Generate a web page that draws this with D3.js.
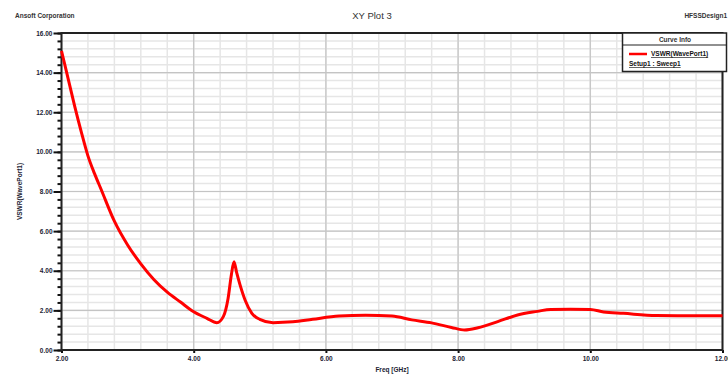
<!DOCTYPE html>
<html>
<head>
<meta charset="utf-8">
<script src="https://cdn.jsdelivr.net/npm/d3@7"></script>
<style>
	body { margin: 0; background: #fff; }
	text { font-family: "Liberation Sans", Arial, sans-serif; }
</style>
</head>
<body>
<svg id="chart" width="728" height="375"></svg>
<script>
// curve: VSWR(WavePort1) vs Freq [GHz]
var freq = [2.0, 2.05, 2.1, 2.2, 2.3, 2.4, 2.5, 2.6, 2.8, 3.0, 3.2, 3.4, 3.6, 3.8, 4.0, 4.2, 4.35,
	4.45, 4.52, 4.57, 4.61, 4.65, 4.7, 4.78, 4.88, 5.0, 5.2, 5.5, 5.8, 6.2, 6.6, 7.0, 7.3, 7.6,
	7.9, 8.1, 8.3, 8.6, 8.9, 9.2, 9.4, 9.7, 10.0, 10.2, 10.5, 11.0, 11.5, 12.0];
var vswr = [15.1, 14.4, 13.7, 12.3, 11.0, 9.8, 8.9, 8.1, 6.5, 5.3, 4.35, 3.55, 2.92, 2.42, 1.93, 1.6, 1.38,
	1.7, 2.6, 3.8, 4.45, 3.9, 3.3, 2.5, 1.85, 1.55, 1.38, 1.42, 1.55, 1.71, 1.75, 1.71, 1.52, 1.37,
	1.14, 1.01, 1.12, 1.43, 1.77, 1.95, 2.05, 2.06, 2.05, 1.92, 1.85, 1.74, 1.73, 1.73];
var xTicks = [2, 4, 6, 8, 10, 12];
var yTicks = [0, 2, 4, 6, 8, 10, 12, 14, 16];
var legendNames = ["VSWR(WavePort1)", "Setup1 : Sweep1"];

var svg = d3.select("#chart");
// plot area (note: "top" is taken by window.top)
var pL = 61.5, pR = 722.5, pT = 33, pB = 350;

var x = d3.scaleLinear().domain([2, 12]).range([pL, pR]);
var y = d3.scaleLinear().domain([0, 16]).range([pB, pT]);

// minor grid every 0.4
var gx = svg.append("g");
d3.range(2, 12.001, 0.4).forEach(function(v) {
	gx.append("line").attr("x1", x(v)).attr("x2", x(v)).attr("y1", pT).attr("y2", pB)
		.attr("stroke", "#e6e6e6").attr("stroke-width", 1.5);
});
d3.range(0, 16.001, 0.4).forEach(function(v) {
	gx.append("line").attr("x1", pL).attr("x2", pR).attr("y1", y(v)).attr("y2", y(v))
		.attr("stroke", "#e6e6e6").attr("stroke-width", 1.5);
});
// major grid
xTicks.forEach(function(v) {
	gx.append("line").attr("x1", x(v)).attr("x2", x(v)).attr("y1", pT).attr("y2", pB)
		.attr("stroke", "#c4c4c4").attr("stroke-width", 1.2);
});
yTicks.forEach(function(v) {
	gx.append("line").attr("x1", pL).attr("x2", pR).attr("y1", y(v)).attr("y2", y(v))
		.attr("stroke", "#c4c4c4").attr("stroke-width", 1.2);
});

// axes
var yAxis = d3.axisLeft(y).tickValues(yTicks).tickSize(8).tickPadding(1)
	.tickFormat(function(d) { return d.toFixed(2); });
var ya = svg.append("g").attr("transform", "translate(" + pL + ",0)").call(yAxis);
ya.select(".domain").remove();
ya.selectAll("line").attr("stroke", "#111").attr("stroke-width", 2);
var yMinor = d3.axisLeft(y).tickValues(d3.range(0, 16.001, 0.4)).tickSize(4).tickFormat("");
var ym = svg.append("g").attr("transform", "translate(" + pL + ",0)").call(yMinor);
ym.select(".domain").remove();
ym.selectAll("line").attr("stroke", "#111").attr("stroke-width", 2);

var xAxis = d3.axisBottom(x).tickValues(xTicks).tickSize(3).tickPadding(3)
	.tickFormat(function(d) { return d.toFixed(2); });
var xa = svg.append("g").attr("transform", "translate(0," + pB + ")").call(xAxis);
xa.select(".domain").remove();
xa.selectAll("line").attr("stroke", "#111").attr("stroke-width", 2);

svg.selectAll(".tick text").attr("font-size", 6.5).attr("font-weight", "bold").attr("fill", "#223");

// frame
svg.append("rect").attr("x", pL).attr("y", pT).attr("width", pR - pL).attr("height", pB - pT)
	.attr("fill", "none").attr("stroke", "#222").attr("stroke-width", 2);

// curve
var line = d3.line().curve(d3.curveMonotoneX)
	.x(function(d, i) { return x(freq[i]); }).y(function(d) { return y(d); });
svg.append("path").datum(vswr).attr("d", line).attr("fill", "none")
	.attr("stroke", "#ff0000").attr("stroke-width", 3).attr("stroke-linejoin", "round");

// titles
svg.append("text").attr("x", 372).attr("y", 19).attr("text-anchor", "middle")
	.attr("font-size", 9.5).attr("fill", "#333").text("XY Plot 3");
svg.append("text").attr("x", 15).attr("y", 18).attr("font-size", 6.5).attr("font-weight", "bold")
	.attr("fill", "#333").text("Ansoft Corporation");
svg.append("text").attr("x", 727).attr("y", 18).attr("text-anchor", "end").attr("font-size", 6.5)
	.attr("font-weight", "bold").attr("fill", "#333").text("HFSSDesign1");
svg.append("text").attr("x", (pL + pR) / 2).attr("y", 372).attr("text-anchor", "middle")
	.attr("font-size", 6.5).attr("font-weight", "bold").attr("fill", "#223").text("Freq [GHz]");
svg.append("text").attr("transform", "translate(22," + ((pT + pB) / 2) + ") rotate(-90)")
	.attr("text-anchor", "middle").attr("font-size", 6.5).attr("font-weight", "bold")
	.attr("fill", "#223").text("VSWR(WavePort1)");

// legend
var lg = svg.append("g");
lg.append("rect").attr("x", 622.5).attr("y", 33).attr("width", 104).attr("height", 38.5)
	.attr("fill", "#fff").attr("stroke", "#222").attr("stroke-width", 1.5);
lg.append("line").attr("x1", 622.5).attr("x2", 726.5).attr("y1", 45).attr("y2", 45)
	.attr("stroke", "#222").attr("stroke-width", 1.2);
lg.append("text").attr("x", 675).attr("y", 41.5).attr("text-anchor", "middle").attr("font-size", 6.5)
	.attr("font-weight", "bold").attr("fill", "#333").text("Curve Info");
lg.append("line").attr("x1", 629).attr("x2", 647).attr("y1", 54).attr("y2", 54)
	.attr("stroke", "#ff0000").attr("stroke-width", 2.5);
lg.append("text").attr("x", 651).attr("y", 56).attr("font-size", 6.5).attr("font-weight", "bold")
	.attr("text-decoration", "underline").attr("fill", "#111").text(legendNames[0]);
lg.append("text").attr("x", 629).attr("y", 66).attr("font-size", 6.5).attr("font-weight", "bold")
	.attr("text-decoration", "underline").attr("fill", "#111").text(legendNames[1]);
</script>
</body>
</html>
